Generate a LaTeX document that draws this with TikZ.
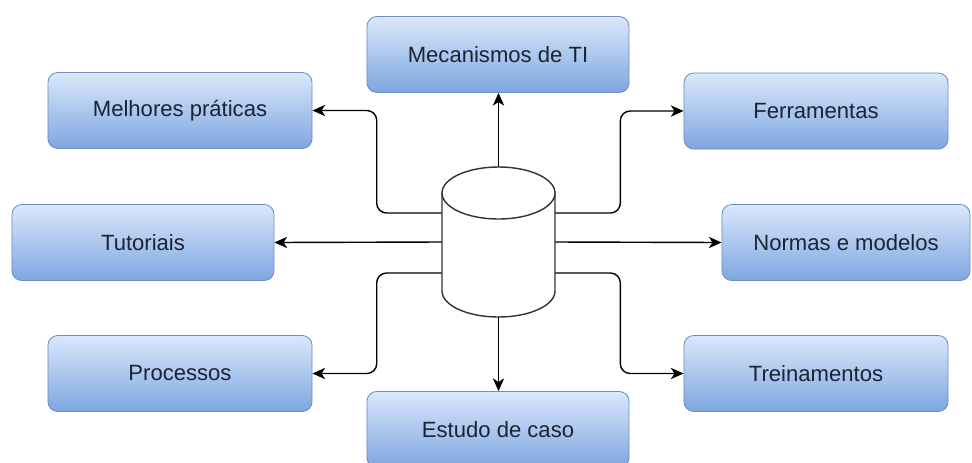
\documentclass[tikz,border=0pt]{standalone}
\usepackage{fontspec}
\setmainfont{Liberation Sans}
\usepackage{xcolor}
\usepackage{tikz}
\usetikzlibrary{positioning,calc,arrows.meta}

\definecolor{caixaTopo}{HTML}{DAE8FC}
\definecolor{caixaBase}{HTML}{7EA6E0}
\definecolor{caixaBorda}{HTML}{6C8EBF}
\definecolor{textoCaixa}{HTML}{1C2333}

\tikzset{
	caixa/.style={rectangle, rounded corners=7pt, draw=caixaBorda, line width=0.6pt,
		top color=caixaTopo, bottom color=caixaBase, text=textoCaixa,
		minimum width=6.6cm, minimum height=1.9cm, inner sep=0pt,
		font=\fontsize{15.7}{19}\selectfont},
	seta/.style={-{Stealth[length=9pt,width=8pt,inset=2.5pt]}, line width=1pt, rounded corners=7pt},
	cil/.style={draw=black!80, line width=1pt, fill=white}
}

\begin{document}
\begin{tikzpicture}[x=0.025cm,y=-0.025cm]
	\useasboundingbox (0,0) rectangle (972,462);
	
	% caixas
	\node[caixa, minimum width=6.55cm] (mec) at (498,54.5) {Mecanismos de TI};
	\node[caixa] (mel) at (180,110.5) {Melhores práticas};
	\node[caixa] (fer) at (816,111) {Ferramentas};
	\node[caixa, minimum width=6.55cm] (tut) at (143,242.5) {Tutoriais};
	\node[caixa, minimum width=6.2cm] (nor) at (846,242.5) {Normas e modelos};
	\node[caixa] (pro) at (180,373.5) {Processos};
	\node[caixa] (tre) at (816,373.5) {Treinamentos};
	\node[caixa, minimum width=6.55cm] (est) at (498,429.5) {Estudo de caso};
	
	% cilindro (base de dados)
	\node[minimum width=2.825cm, minimum height=3.75cm, inner sep=0pt] (db) at (498.5,242) {};
	\draw[cil] (442,193) -- (442,291)
		arc[start angle=180, end angle=360, x radius=1.4125cm, y radius=0.65cm]
		-- (555,193) -- cycle;
	\draw[cil] (498.5,193) ellipse[x radius=1.4125cm, y radius=0.65cm];
	
	% ligações
	\draw[seta] (db.north) -- (db.north |- mec.south);
	\draw[seta] (db.south) -- (db.south |- est.north);
	\draw[seta] (db.west) -- (tut.east);
	\draw[seta] (db.east) -- (nor.west);
	\draw[seta] ($(db.west)+(0,-29)$) -- ++(-65,0) |- (mel.east);
	\draw[seta] ($(db.west)+(0,31)$) -- ++(-65,0) |- (pro.east);
	\draw[seta] ($(db.east)+(0,-29)$) -- ++(65,0) |- (fer.west);
	\draw[seta] ($(db.east)+(0,31)$) -- ++(65,0) |- (tre.west);
\end{tikzpicture}
\end{document}
